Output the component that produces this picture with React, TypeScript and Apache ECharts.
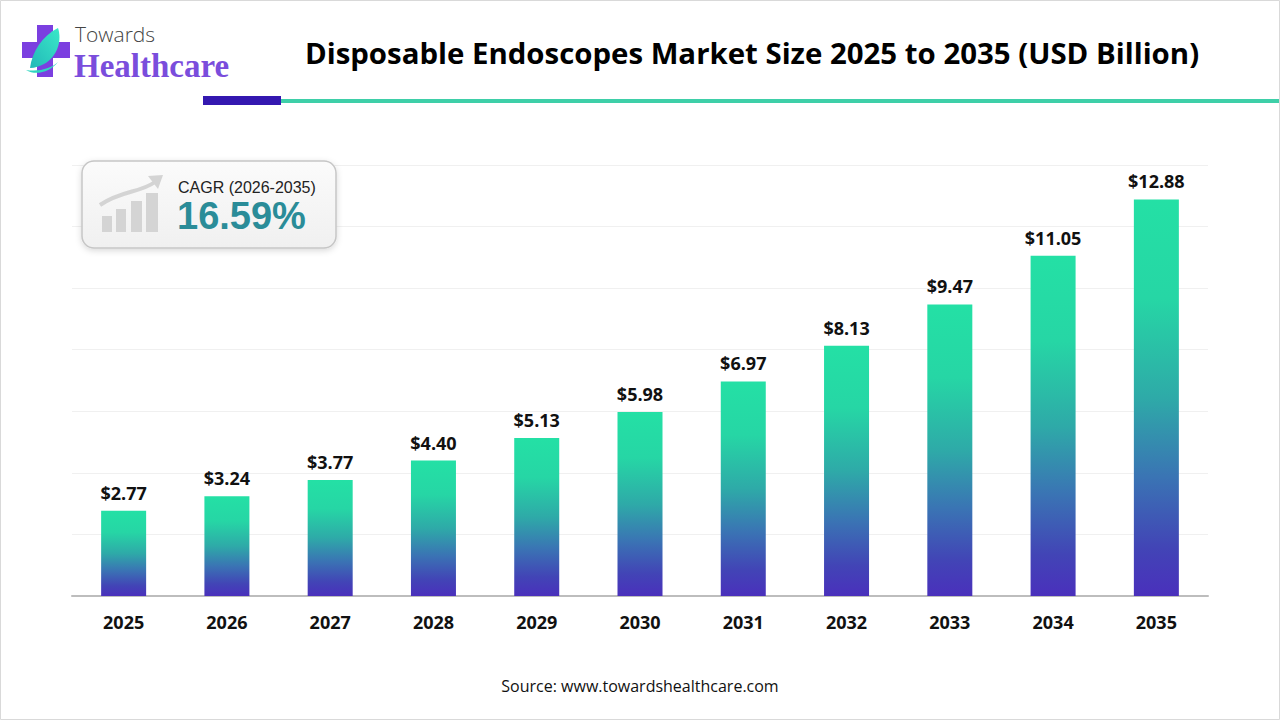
import React, { useEffect, useRef } from "react";
import * as echarts from "echarts";

const years = ["2025", "2026", "2027", "2028", "2029", "2030", "2031", "2032", "2033", "2034", "2035"];
const marketSize = [2.77, 3.24, 3.77, 4.4, 5.13, 5.98, 6.97, 8.13, 9.47, 11.05, 12.88];
const titleText = "Disposable Endoscopes Market Size 2025 to 2035 (USD Billion)";
const cagrLabel = "CAGR (2026-2035)";
const cagrValue = "16.59%";
const sourceText = "Source: www.towardshealthcare.com";

const leafPath = "M2 42 C 4 26, 14 10, 30 2 C 34 14, 30 30, 16 38 C 12 40, 7 42, 2 42 Z";
const swooshPath = "M0 44 C 10 50, 24 46, 32 36 C 26 42, 14 46, 0 44 Z";

let registered = false;
function registerShapes() {
  if (registered) return;
  registered = true;
  echarts.graphic.registerShape("leaf", echarts.graphic.extendPath(leafPath, {}) as any);
  echarts.graphic.registerShape("swoosh", echarts.graphic.extendPath(swooshPath, {}) as any);
}

export default function App() {
  const ref = useRef<HTMLDivElement>(null);
  useEffect(() => {
    document.body.style.margin = "0";
    registerShapes();
    const chart = echarts.init(ref.current!, null, { renderer: "svg" });
    const barGradient = new echarts.graphic.LinearGradient(0, 0, 0, 1, [
      { offset: 0, color: "#24e0a5" },
      { offset: 0.25, color: "#26d6a5" },
      { offset: 0.5, color: "#2eaaa8" },
      { offset: 0.7, color: "#3a74b4" },
      { offset: 0.88, color: "#4244b6" },
      { offset: 1, color: "#4a30bc" },
    ]);
    const grey = "#d4d4d4";
    chart.setOption({
      animation: false,
      backgroundColor: "#ffffff",
      grid: { left: 72, right: 72, top: 165, bottom: 124 },
      xAxis: {
        type: "category",
        data: years,
        axisLine: { show: true, lineStyle: { color: "#bdbdbd", width: 2 } },
        axisTick: { show: false },
        axisLabel: {
          color: "#111",
          fontSize: 18,
          fontWeight: "bold",
          fontFamily: "Open Sans",
          margin: 17,
        },
      },
      yAxis: {
        type: "value",
        min: 0,
        max: 14,
        interval: 2,
        axisLabel: { show: false },
        axisLine: { show: false },
        axisTick: { show: false },
        splitLine: { lineStyle: { color: "#f0f0f0", width: 1 } },
      },
      series: [
        {
          type: "bar",
          data: marketSize,
          barWidth: 45,
          itemStyle: { color: barGradient },
          label: {
            show: true,
            position: "top",
            distance: 9,
            formatter: (p: any) => "$" + Number(p.value).toFixed(2),
            color: "#111",
            fontSize: 18,
            fontWeight: "bold",
            fontFamily: "Open Sans",
          },
        },
      ],
      graphic: [
        // outer border
        {
          type: "rect",
          shape: { x: 0.5, y: 0.5, width: 1279, height: 719 },
          style: { fill: "none", stroke: "#d9d9d9", lineWidth: 1 },
          silent: true,
          z: 100,
        },
        // logo cross
        { type: "rect", shape: { x: 37, y: 25, width: 16, height: 52 }, style: { fill: "#7b3fe0" } },
        { type: "rect", shape: { x: 22, y: 42, width: 48, height: 16 }, style: { fill: "#7b3fe0" } },
        {
          type: "leaf",
          x: 28,
          y: 26,
          style: {
            fill: new echarts.graphic.LinearGradient(0, 1, 1, 0, [
              { offset: 0, color: "#22b8b8" },
              { offset: 1, color: "#3ae8c8" },
            ]),
          },
        },
        {
          type: "swoosh",
          x: 26,
          y: 26,
          style: { fill: "#2fd6c0" },
        },
        {
          type: "text",
          x: 75,
          y: 34,
          style: {
            text: "Towards",
            fill: "#444",
            font: "300 21px 'Open Sans'",
            textVerticalAlign: "middle",
          },
        },
        {
          type: "text",
          x: 74,
          y: 66,
          style: {
            text: "Healthcare",
            fill: "#7a4ddc",
            font: "bold 33px 'Liberation Serif'",
            textVerticalAlign: "middle",
          },
        },
        // title
        {
          type: "text",
          x: 752,
          y: 53,
          style: {
            text: titleText,
            fill: "#000",
            font: "bold 29.4px 'Open Sans'",
            textAlign: "center",
            textVerticalAlign: "middle",
          },
        },
        // header rule
        { type: "rect", shape: { x: 281, y: 99, width: 999, height: 4 }, style: { fill: "#3ecfa8" } },
        { type: "rect", shape: { x: 203, y: 96, width: 78, height: 9 }, style: { fill: "#3418b0" } },
        // CAGR box
        {
          type: "group",
          z: 20,
          children: [
            {
              type: "rect",
              z: 20,
              shape: { x: 82, y: 161, width: 254, height: 87, r: 12 },
              style: {
                fill: new echarts.graphic.LinearGradient(0, 0, 0, 1, [
                  { offset: 0, color: "#fbfbfb" },
                  { offset: 1, color: "#f0f0f0" },
                ]),
                stroke: "#c6c6c6",
                lineWidth: 1.5,
                shadowBlur: 6,
                shadowColor: "rgba(0,0,0,0.15)",
                shadowOffsetY: 2,
              },
            },
            { type: "rect", z: 21, shape: { x: 102, y: 216, width: 10, height: 16 }, style: { fill: grey } },
            { type: "rect", z: 21, shape: { x: 116, y: 209, width: 10, height: 23 }, style: { fill: grey } },
            { type: "rect", z: 21, shape: { x: 131, y: 201, width: 11, height: 31 }, style: { fill: grey } },
            { type: "rect", z: 21, shape: { x: 146, y: 193, width: 12, height: 39 }, style: { fill: grey } },
            {
              type: "bezierCurve",
              z: 21,
              shape: { x1: 100, y1: 205, x2: 155, y2: 182, cpx1: 122, cpy1: 190, cpx2: 140, cpy2: 193 },
              style: { stroke: grey, lineWidth: 4, fill: "none" },
            },
            {
              type: "polygon",
              z: 21,
              shape: { points: [[163, 175], [148, 176], [158, 189]] },
              style: { fill: grey },
            },
            {
              type: "text",
              z: 22,
              x: 178,
              y: 187,
              style: {
                text: cagrLabel,
                fill: "#222",
                font: "16px 'Liberation Sans'",
                textVerticalAlign: "middle",
              },
            },
            {
              type: "text",
              z: 22,
              x: 177,
              y: 216,
              style: {
                text: cagrValue,
                fill: "#2a8c98",
                font: "bold 38px 'Liberation Sans'",
                textVerticalAlign: "middle",
              },
            },
          ],
        },
        // source
        {
          type: "text",
          x: 640,
          y: 686,
          style: {
            text: sourceText,
            fill: "#111",
            font: "16px 'Open Sans'",
            textAlign: "center",
            textVerticalAlign: "middle",
          },
        },
      ],
    });
    return () => chart.dispose();
  }, []);
  return <div ref={ref} style={{ width: 1280, height: 720 }} />;
}
